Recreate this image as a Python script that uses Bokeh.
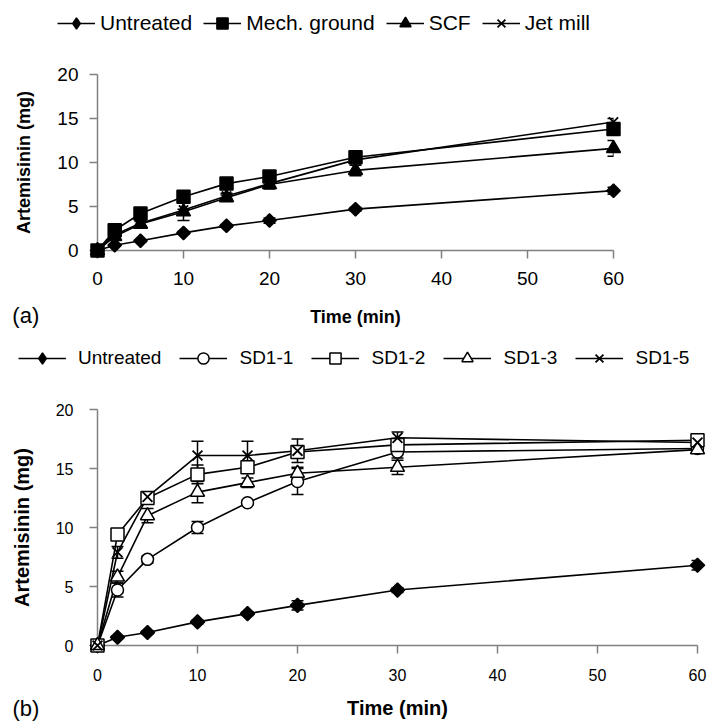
import math
from bokeh.plotting import figure
from bokeh.models import (Range1d, FixedTicker, Legend, LegendItem, Whisker,
                          TeeHead, ColumnDataSource)
from bokeh.core.properties import value
from bokeh.embed import file_html
from bokeh.resources import INLINE

FONT = "Liberation Sans"

# ---------------- data ----------------
time = [0, 2, 5, 10, 15, 20, 30, 60]
x_ticks = [0, 10, 20, 30, 40, 50, 60]
y_ticks = [0, 5, 10, 15, 20]

# panel (a)
a_labels = ["Untreated", "Mech. ground", "SCF", "Jet mill"]
a_untreated = [0, 0.6, 1.1, 2.0, 2.8, 3.4, 4.7, 6.8]
a_untreated_err = [0, 0.1, 0.1, 0.15, 0.15, 0.3, 0.2, 0.4]
a_mech = [0, 2.3, 4.2, 6.1, 7.6, 8.4, 10.6, 13.8]
a_mech_err = [0, 0.2, 0.2, 0.2, 0.2, 0.2, 0.3, 0.4]
a_scf = [0, 1.6, 3.0, 4.4, 6.0, 7.5, 9.1, 11.6]
a_scf_err = [0, 0.2, 0.3, 0.3, 0.3, 0.5, 0.6, 0.9]
a_jet = [0, 1.8, 3.1, 4.6, 6.2, 7.6, 10.3, 14.6]
a_jet_err = [0, 0.2, 0.3, 1.2, 0.3, 0.4, 0.4, 0.4]

# panel (b)
b_labels = ["Untreated", "SD1-1", "SD1-2", "SD1-3", "SD1-5"]
b_untreated = [0, 0.7, 1.1, 2.0, 2.7, 3.4, 4.7, 6.8]
b_untreated_err = [0, 0.1, 0.15, 0.15, 0.15, 0.4, 0.2, 0.4]
b_sd11 = [0, 4.7, 7.3, 10.0, 12.1, 13.9, 16.4, 16.7]
b_sd11_err = [0, 0.6, 0.3, 0.5, 0.2, 1.1, 0.5, 0.3]
b_sd12 = [0, 9.4, 12.5, 14.5, 15.1, 16.4, 17.0, 17.4]
b_sd12_err = [0, 0.3, 0.5, 0.8, 0.5, 0.5, 0.4, 0.3]
b_sd13 = [0, 5.8, 11.0, 13.0, 13.8, 14.6, 15.1, 16.6]
b_sd13_err = [0, 0.5, 0.6, 0.9, 0.4, 0.5, 0.6, 0.3]
b_sd15 = [0, 7.9, 12.6, 16.1, 16.1, 16.5, 17.6, 17.2]
b_sd15_err = [0, 0.5, 0.4, 1.2, 1.2, 1.0, 0.5, 0.3]

panel_tags = ["(a)", "(b)"]

ROT = math.pi / 4
# plot marker styles (marker, size, fill, line width, angle) per series
a_styles = [("square", 9.5, "black", 1.5, ROT), ("square", 13, "black", 1.5, 0),
            ("triangle", 14, "black", 1.5, 0), ("x", 13, "black", 1.8, 0)]
b_styles = [("square", 10, "black", 1.5, ROT), ("circle", 12, "white", 1.5, 0),
            ("square", 13, "white", 1.5, 0), ("triangle", 14, "white", 1.5, 0),
            ("x", 14, "black", 1.8, 0)]
# legend sample markers (marker, fill, line width)
a_leg_styles = [("diamond", "black", 1.5), ("square", "black", 1.5),
                ("triangle", "black", 1.5), ("x", "black", 1.8)]
b_leg_styles = [("diamond", "black", 1.5), ("circle", "white", 1.5),
                ("square", "white", 1.5), ("triangle", "white", 1.5),
                ("x", "black", 1.8)]


def style_axes(p, tick_size, title_size, tick_out, x_label_standoff,
               x_title_standoff, y_label_standoff, y_title_standoff):
    p.grid.visible = False
    p.outline_line_color = None
    p.xaxis.ticker = FixedTicker(ticks=x_ticks)
    p.yaxis.ticker = FixedTicker(ticks=y_ticks)
    for ax in (p.xaxis[0], p.yaxis[0]):
        ax.axis_line_color = "#808080"
        ax.axis_line_width = 1.5
        ax.major_tick_line_color = "#808080"
        ax.major_tick_line_width = 1.5
        ax.major_tick_out = tick_out
        ax.major_tick_in = 0
        ax.minor_tick_line_color = None
        ax.major_label_text_font = FONT
        ax.major_label_text_font_size = tick_size
        ax.major_label_text_color = "black"
        ax.axis_label_text_font = FONT
        ax.axis_label_text_font_size = title_size
        ax.axis_label_text_font_style = "bold"
        ax.axis_label_text_color = "black"
    p.xaxis.major_label_standoff = x_label_standoff
    p.xaxis.axis_label_standoff = x_title_standoff
    p.yaxis.major_label_standoff = y_label_standoff
    p.yaxis.axis_label_standoff = y_title_standoff


def add_series(p, y, err, style):
    marker, size, fill, lw, ang = style
    p.line(time, y, line_color="black", line_width=1.6)
    p.scatter(time, y, marker=marker, size=size, fill_color=fill, angle=ang,
              line_color="black", line_width=lw, level="annotation")
    base = [t for t, e in zip(time, err) if e > 0]
    up = [v + e for v, e in zip(y, err) if e > 0]
    lo = [v - e for v, e in zip(y, err) if e > 0]
    src = ColumnDataSource(dict(base=base, upper=up, lower=lo))
    w = Whisker(base="base", upper="upper", lower="lower", source=src,
                line_color="black", line_width=1.5,
                upper_head=TeeHead(size=12, line_color="black", line_width=1.5),
                lower_head=TeeHead(size=12, line_color="black", line_width=1.5))
    p.add_layout(w)


def add_tag(p, x, y, text):
    p.text(x=[x], y=[y], text=[text], text_font=value(FONT),
           text_font_size=value("22px"), text_baseline="middle",
           text_align="left", text_color="black", level="annotation")


def legend_fig(height, labels, styles, loc, glyph_width, standoff, spacing,
               font_size, label_width):
    # a strip that only carries the legend; its sample glyphs sit off-frame
    f = figure(width=711, height=height, x_range=Range1d(0, 1),
               y_range=Range1d(0, 1), output_backend="svg",
               toolbar_location=None, x_axis_location=None,
               y_axis_location=None, min_border=0,
               background_fill_color="white", border_fill_color="white")
    f.grid.visible = False
    f.outline_line_color = None
    items = []
    for lab, (marker, fill, lw) in zip(labels, styles):
        ln = f.line(x=[-5, -4], y=[-5, -5], line_color="black", line_width=1.6)
        sc = f.scatter(x=[-5], y=[-5], marker=marker, size=10, fill_color=fill,
                       line_color="black", line_width=lw)
        items.append(LegendItem(label=lab, renderers=[ln, sc]))
    leg = Legend(items=items, orientation="horizontal", location=loc,
                 border_line_color=None, background_fill_alpha=0,
                 padding=0, margin=0, spacing=spacing,
                 glyph_width=glyph_width, glyph_height=28,
                 label_standoff=standoff, label_height=28,
                 label_width=label_width, label_text_color="black",
                 label_text_font=FONT, label_text_font_size=font_size)
    f.add_layout(leg)
    return f


# ---------------- legend (a) ----------------
la = legend_fig(40, a_labels, a_leg_styles, (57, 3), 38, 5, 11, "21px", 20)

# ---------------- figure (a) ----------------
pa = figure(width=711, height=295, x_range=Range1d(0, 60), y_range=Range1d(0, 20),
            output_backend="svg", toolbar_location=None,
            min_border_left=97, min_border_right=98, min_border_top=34,
            min_border_bottom=85, background_fill_color="white",
            border_fill_color="white",
            x_axis_label="Time (min)", y_axis_label="Artemisinin (mg)")
style_axes(pa, "19px", "18px", 8, 13, 19, 11, 20)
for y, e, s in zip([a_untreated, a_mech, a_scf, a_jet],
                   [a_untreated_err, a_mech_err, a_scf_err, a_jet_err], a_styles):
    add_series(pa, y, e, s)
add_tag(pa, -9.9, -7.4, panel_tags[0])

# ---------------- legend (b) ----------------
lb = legend_fig(50, b_labels, b_leg_styles, (18, 13), 48, 12, 18, "19px", 54)

# ---------------- figure (b) ----------------
pb = figure(width=711, height=337, x_range=Range1d(0, 60), y_range=Range1d(0, 20),
            output_backend="svg", toolbar_location=None,
            min_border_left=97, min_border_right=14, min_border_top=24,
            min_border_bottom=77, background_fill_color="white",
            border_fill_color="white",
            x_axis_label="Time (min)", y_axis_label="Artemisinin (mg)")
style_axes(pb, "16px", "20px", 8, 15, 13, 16, 20)
for y, e, s in zip([b_untreated, b_sd11, b_sd12, b_sd13, b_sd15],
                   [b_untreated_err, b_sd11_err, b_sd12_err, b_sd13_err, b_sd15_err],
                   b_styles):
    add_series(pb, y, e, s)
add_tag(pb, -8.5, -5.3, panel_tags[1])

open("out.html", "w").write(file_html([la, pa, lb, pb], INLINE))
